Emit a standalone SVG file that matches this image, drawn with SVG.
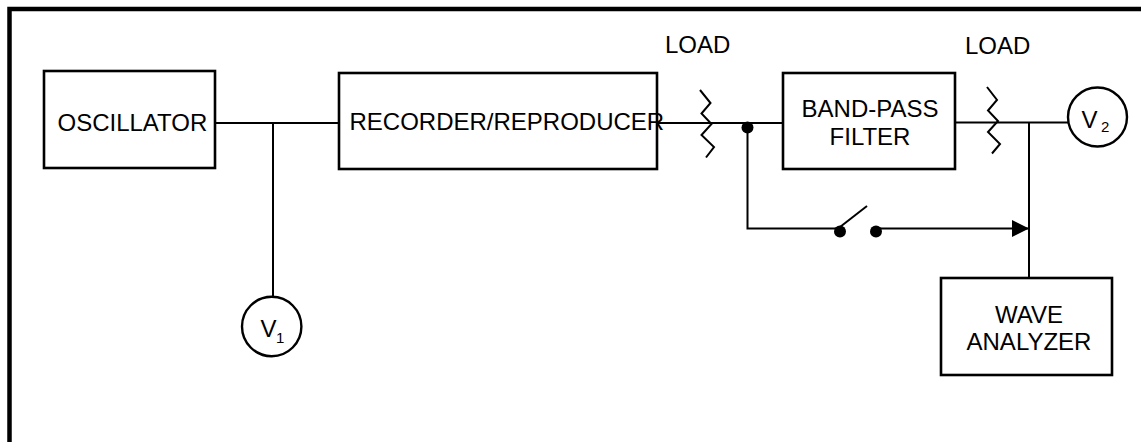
<svg xmlns="http://www.w3.org/2000/svg" width="1141" height="442" viewBox="0 0 1141 442">
<style>
.box{fill:#fff;stroke:#000;stroke-width:2.6}
.ln{fill:none;stroke:#000;stroke-width:2}
.t{font-family:"Liberation Sans",Arial,sans-serif;font-size:24px;fill:#000}
.m{text-anchor:middle}
.sub{font-family:"Liberation Sans",Arial,sans-serif;font-size:15px;fill:#000}
</style>
<defs>
<marker id="ah" markerWidth="18" markerHeight="17" refX="17" refY="8.5" orient="auto" markerUnits="userSpaceOnUse">
<path d="M0,0 L17,8.5 L0,17 Z" fill="#000"/>
</marker>
</defs>
<rect x="0" y="0" width="1141" height="442" fill="#fff"/>
<rect x="9.5" y="9" width="1200" height="500" fill="none" stroke="#000" stroke-width="4.5"/>
<g id="connectors">
<path class="ln" d="M215,123 H339"/>
<path class="ln" d="M273,123 V297"/>
<path class="ln" d="M657,123 H783"/>
<path class="ln" d="M955,122.5 H1068"/>
<path class="ln" d="M1029,122.5 V278"/>
<path class="ln" d="M747.5,127 V228.5 H840"/>
<path class="ln" d="M876,228.5 H1029" marker-end="url(#ah)"/>
<path class="ln" d="M840,227 L867,206"/>
<circle cx="747.5" cy="127.5" r="6" fill="#000"/>
<circle cx="840" cy="231.5" r="6" fill="#000"/>
<circle cx="876" cy="231.5" r="6" fill="#000"/>
</g>
<g id="osc">
<rect class="box" x="44" y="71" width="171" height="97"/>
<text class="t" x="57.5" y="130.5">OSCILLATOR</text>
</g>
<g id="recorder">
<rect class="box" x="339" y="73" width="318" height="96"/>
<text class="t" x="349.5" y="130">RECORDER/REPRODUCER</text>
</g>
<g id="load1">
<path class="ln" d="M700,90 L710.5,103 L701.5,113.5 L711.5,124 L701.5,135 L714,147 L706,157.5"/>
<text class="t" x="665" y="52.5">LOAD</text>
</g>
<g id="bpf">
<rect class="box" x="783" y="73" width="172" height="96"/>
<text class="t m" x="870" y="116.5">BAND-PASS</text>
<text class="t m" x="870" y="145">FILTER</text>
</g>
<g id="load2">
<path class="ln" d="M987,87 L997,100 L988,110.5 L998,121 L988,132 L1000,144 L992,153.5"/>
<text class="t" x="965" y="54">LOAD</text>
</g>
<g id="v2">
<circle cx="1097.5" cy="117" r="29.5" fill="#fff" stroke="#000" stroke-width="2.4"/>
<text class="t" x="1081.5" y="127.5">V</text>
<text class="sub" x="1101" y="131.5">2</text>
</g>
<g id="v1">
<circle cx="271.7" cy="326.5" r="29.7" fill="#fff" stroke="#000" stroke-width="2.4"/>
<text class="t" x="260.5" y="337">V</text>
<text class="sub" x="276" y="342.5">1</text>
</g>
<g id="wave">
<rect class="box" x="941" y="278" width="171" height="97"/>
<text class="t m" x="1029" y="322.5">WAVE</text>
<text class="t m" x="1029" y="350">ANALYZER</text>
</g>
</svg>
